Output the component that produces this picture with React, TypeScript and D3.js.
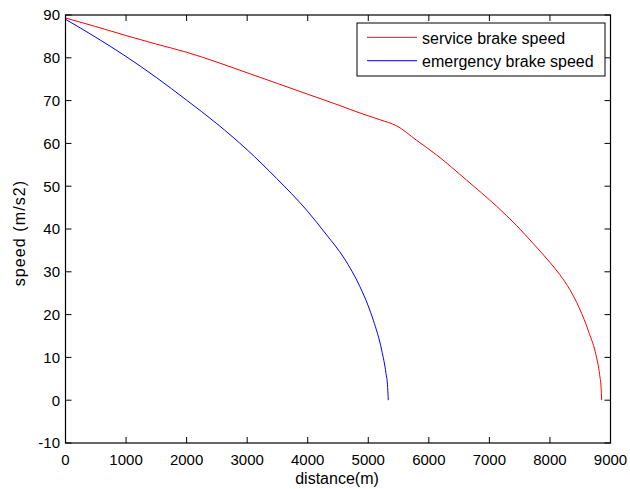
import React from "react";
import * as d3 from "d3";

// Service brake curve: distance (m) and speed
const serviceDistance = [0, 500, 1000, 1500, 2000, 2500, 3000, 3500, 4000, 4500, 4863, 5200, 5469, 5800, 6129, 6625, 7120, 7450, 7724, 8000, 8165, 8330, 8480, 8650, 8760, 8820, 8845, 8854];
const serviceSpeed = [89.3, 87.3, 85.2, 83.2, 81.3, 79.0, 76.5, 74.0, 71.5, 69.0, 67.1, 65.5, 64.1, 60.7, 57.3, 51.4, 45.3, 40.8, 36.6, 32.2, 29.3, 25.8, 21.7, 15.6, 10.6, 6.0, 2.8, 0];

// Emergency brake curve: distance (m) and speed
const emergencyDistance = [0, 500, 1000, 1500, 2000, 2500, 3000, 3487, 3982, 4313, 4600, 4863, 5000, 5083, 5221, 5292, 5320, 5330];
const emergencySpeed = [89.0, 84.8, 80.3, 75.4, 70.1, 64.6, 58.5, 51.8, 44.4, 38.6, 33.2, 26.5, 22.0, 18.7, 11.7, 6.3, 3.0, 0];

const xTicks = [0, 1000, 2000, 3000, 4000, 5000, 6000, 7000, 8000, 9000];
const yTicks = [-10, 0, 10, 20, 30, 40, 50, 60, 70, 80, 90];

const seriesNames = ["service brake speed", "emergency brake speed"];
const seriesColors = ["#ff0000", "#0000ff"];

const W = 630;
const H = 489;
const plot = { left: 65.5, right: 610.5, top: 15, bottom: 443 };
const FONT = "'Liberation Sans', Arial, Helvetica, sans-serif";

export default function App() {
  const x = d3.scaleLinear().domain([0, 9000]).range([plot.left, plot.right]);
  const y = d3.scaleLinear().domain([-10, 90]).range([plot.bottom, plot.top]);

  const line = d3
    .line<[number, number]>()
    .x((d) => x(d[0]))
    .y((d) => y(d[1]))
    .curve(d3.curveMonotoneX);

  const series = [
    serviceDistance.map((d, i) => [d, serviceSpeed[i]] as [number, number]),
    emergencyDistance.map((d, i) => [d, emergencySpeed[i]] as [number, number]),
  ];

  const tickLen = 6;
  const legend = { x: 357, y: 23, w: 248, h: 53 };

  return (
    <svg
      width={W}
      height={H}
      style={{ position: "absolute", left: 0, top: 0, background: "#fff" }}
      fontFamily={FONT}
    >
      <rect x={0} y={0} width={W} height={H} fill="#fff" />

      {series.map((pts, i) => (
        <path key={i} d={line(pts) ?? ""} fill="none" stroke={seriesColors[i]} strokeWidth={1} />
      ))}

      {/* ticks on all four sides, pointing inward */}
      {xTicks.map((t) => (
        <g key={"x" + t}>
          <line x1={x(t)} x2={x(t)} y1={plot.bottom} y2={plot.bottom - tickLen} stroke="#000" />
          <line x1={x(t)} x2={x(t)} y1={plot.top} y2={plot.top + tickLen} stroke="#000" />
          <text x={x(t)} y={464.5} textAnchor="middle" fontSize={15} fill="#000">
            {t}
          </text>
        </g>
      ))}
      {yTicks.map((t) => (
        <g key={"y" + t}>
          <line x1={plot.left} x2={plot.left + tickLen} y1={y(t)} y2={y(t)} stroke="#000" />
          <line x1={plot.right} x2={plot.right - tickLen} y1={y(t)} y2={y(t)} stroke="#000" />
          <text x={60} y={y(t)} dy="0.36em" textAnchor="end" fontSize={15} fill="#000">
            {t}
          </text>
        </g>
      ))}

      <rect
        x={plot.left}
        y={plot.top}
        width={plot.right - plot.left}
        height={plot.bottom - plot.top}
        fill="none"
        stroke="#000"
        strokeWidth={1.2}
      />

      <text x={337} y={484} textAnchor="middle" fontSize={16} fill="#000">
        distance(m)
      </text>
      <text
        transform={`translate(25,${(plot.top + plot.bottom) / 2 + 4}) rotate(-90)`}
        textAnchor="middle"
        fontSize={16}
        letterSpacing={1.1}
        fill="#000"
      >
        speed (m/s2)
      </text>

      {/* legend */}
      <rect x={legend.x} y={legend.y} width={legend.w} height={legend.h} fill="#fff" stroke="#000" strokeWidth={1} />
      {seriesNames.map((name, i) => {
        const ly = 37.3 + i * 23.4;
        return (
          <g key={name}>
            <line x1={367} x2={417} y1={ly} y2={ly} stroke={seriesColors[i]} strokeWidth={1} />
            <text x={422} y={ly} dy="0.4em" fontSize={16} fill="#000">
              {name}
            </text>
          </g>
        );
      })}
    </svg>
  );
}
